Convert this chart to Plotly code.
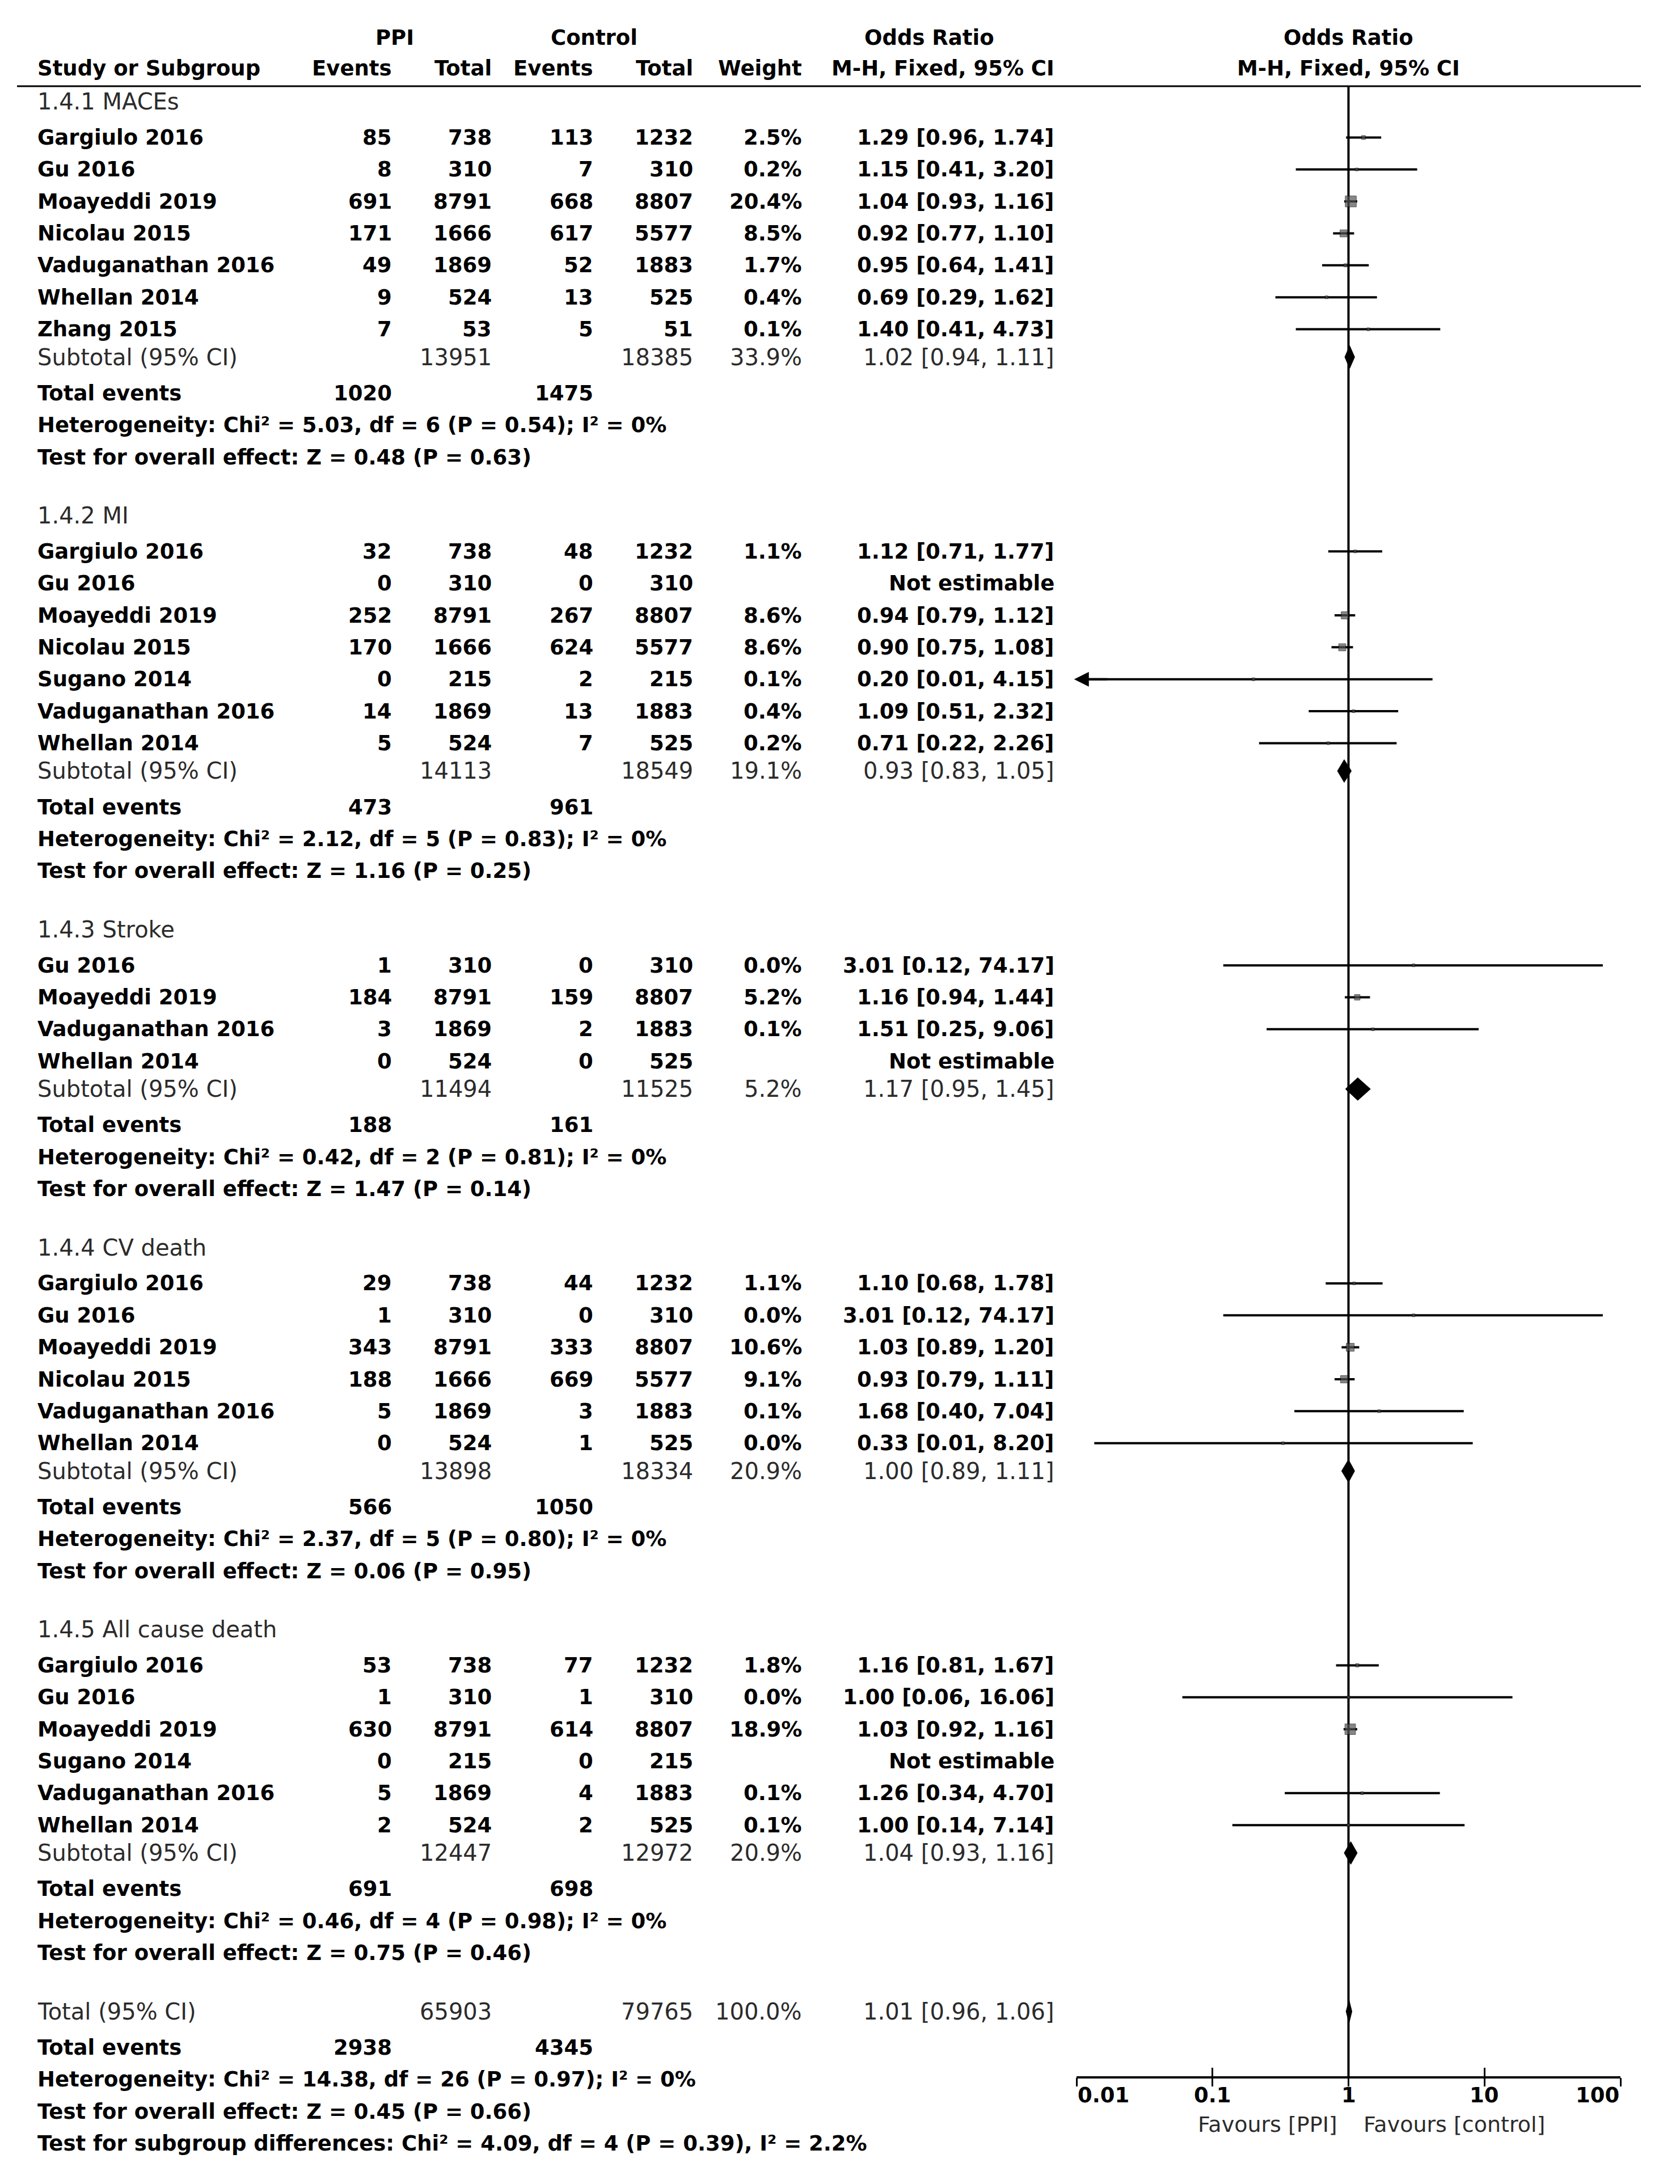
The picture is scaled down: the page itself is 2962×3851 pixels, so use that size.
import math
import plotly.graph_objects as go

W, H = 2962, 3851

# ---------------- data ----------------
section_titles = ["1.4.1 MACEs", "1.4.2 MI", "1.4.3 Stroke", "1.4.4 CV death", "1.4.5 All cause death"]

study_section = [0] * 7 + [1] * 7 + [2] * 4 + [3] * 6 + [4] * 6
study_names = [
    "Gargiulo 2016", "Gu 2016", "Moayeddi 2019", "Nicolau 2015", "Vaduganathan 2016", "Whellan 2014", "Zhang 2015",
    "Gargiulo 2016", "Gu 2016", "Moayeddi 2019", "Nicolau 2015", "Sugano 2014", "Vaduganathan 2016", "Whellan 2014",
    "Gu 2016", "Moayeddi 2019", "Vaduganathan 2016", "Whellan 2014",
    "Gargiulo 2016", "Gu 2016", "Moayeddi 2019", "Nicolau 2015", "Vaduganathan 2016", "Whellan 2014",
    "Gargiulo 2016", "Gu 2016", "Moayeddi 2019", "Sugano 2014", "Vaduganathan 2016", "Whellan 2014",
]
ppi_events = [85, 8, 691, 171, 49, 9, 7,
              32, 0, 252, 170, 0, 14, 5,
              1, 184, 3, 0,
              29, 1, 343, 188, 5, 0,
              53, 1, 630, 0, 5, 2]
ppi_total = [738, 310, 8791, 1666, 1869, 524, 53,
             738, 310, 8791, 1666, 215, 1869, 524,
             310, 8791, 1869, 524,
             738, 310, 8791, 1666, 1869, 524,
             738, 310, 8791, 215, 1869, 524]
ctl_events = [113, 7, 668, 617, 52, 13, 5,
              48, 0, 267, 624, 2, 13, 7,
              0, 159, 2, 0,
              44, 0, 333, 669, 3, 1,
              77, 1, 614, 0, 4, 2]
ctl_total = [1232, 310, 8807, 5577, 1883, 525, 51,
             1232, 310, 8807, 5577, 215, 1883, 525,
             310, 8807, 1883, 525,
             1232, 310, 8807, 5577, 1883, 525,
             1232, 310, 8807, 215, 1883, 525]
weight_pct = [2.5, 0.2, 20.4, 8.5, 1.7, 0.4, 0.1,
              1.1, None, 8.6, 8.6, 0.1, 0.4, 0.2,
              0.0, 5.2, 0.1, None,
              1.1, 0.0, 10.6, 9.1, 0.1, 0.0,
              1.8, 0.0, 18.9, None, 0.1, 0.1]
odds_ratio = [1.29, 1.15, 1.04, 0.92, 0.95, 0.69, 1.40,
              1.12, None, 0.94, 0.90, 0.20, 1.09, 0.71,
              3.01, 1.16, 1.51, None,
              1.10, 3.01, 1.03, 0.93, 1.68, 0.33,
              1.16, 1.00, 1.03, None, 1.26, 1.00]
ci_lower = [0.96, 0.41, 0.93, 0.77, 0.64, 0.29, 0.41,
            0.71, None, 0.79, 0.75, 0.0096, 0.51, 0.22,
            0.12, 0.94, 0.25, None,
            0.68, 0.12, 0.89, 0.79, 0.40, 0.0135,
            0.81, 0.06, 0.92, None, 0.34, 0.14]
ci_upper = [1.74, 3.20, 1.16, 1.10, 1.41, 1.62, 4.73,
            1.77, None, 1.12, 1.08, 4.15, 2.32, 2.26,
            74.17, 1.44, 9.06, None,
            1.78, 74.17, 1.20, 1.11, 7.04, 8.20,
            1.67, 16.06, 1.16, None, 4.70, 7.14]

sub_ppi_total = [13951, 14113, 11494, 13898, 12447]
sub_ctl_total = [18385, 18549, 11525, 18334, 12972]
sub_weight = [33.9, 19.1, 5.2, 20.9, 20.9]
sub_or = [1.02, 0.93, 1.17, 1.00, 1.04]
sub_lo = [0.94, 0.83, 0.95, 0.89, 0.93]
sub_hi = [1.11, 1.05, 1.45, 1.11, 1.16]
sub_ppi_events = [1020, 473, 188, 566, 691]
sub_ctl_events = [1475, 961, 161, 1050, 698]
het_chi2 = [5.03, 2.12, 0.42, 2.37, 0.46]
het_df = [6, 5, 2, 5, 4]
het_p = [0.54, 0.83, 0.81, 0.80, 0.98]
het_i2 = [0, 0, 0, 0, 0]
z_value = [0.48, 1.16, 1.47, 0.06, 0.75]
z_p = [0.63, 0.25, 0.14, 0.95, 0.46]

overall_ppi_total = 65903
overall_ctl_total = 79765
overall_weight = 100.0
overall_or = 1.01
overall_lo = 0.96
overall_hi = 1.06
overall_ppi_events = 2938
overall_ctl_events = 4345
overall_chi2 = 14.38
overall_df = 26
overall_p = 0.97
overall_i2 = 0
overall_z = 0.45
overall_zp = 0.66
subgroup_chi2 = 4.09
subgroup_df = 4
subgroup_p = 0.39
subgroup_i2 = 2.2

tick_vals = [0.01, 0.1, 1, 10, 100]
tick_text = ["0.01", "0.1", "1", "10", "100"]
favours_left = "Favours [PPI]"
favours_right = "Favours [control]"

# ---------------- layout constants (pixels) ----------------
FONT = "DejaVu Sans, Verdana, sans-serif"
FS_BOLD = 37
FS_REG = 40
BOLD_COLOR = "#000000"
REG_COLOR = "#2b2b2b"
X_NAME = 64
X_PPI_EV = 693
X_PPI_TOT = 869
X_CTL_EV = 1048
X_CTL_TOT = 1224
X_WEIGHT = 1416
X_OR = 1861
X_PPI_HEAD = 696
X_CTL_HEAD = 1047
X_OR_HEAD = 1638
PLOT_X0, PLOT_X1 = 1898, 2857
RULE_X0, RULE_X1 = 30, 2893
Y_HEAD1, Y_HEAD2, Y_RULE = 66, 120, 152
AXIS_Y = 3663
U = 56.36
Y_START = 179.3
DIAMOND_H = 40
CI_W = 4

ann = []


def txt(x_px, y, s, anchor="left", bold=False):
    ann.append(dict(
        x=x_px / W, xref="paper", y=y, yref="y",
        text=f"<b>{s}</b>" if bold else s,
        showarrow=False, xanchor=anchor, yanchor="middle",
        font=dict(family=FONT, size=FS_BOLD if bold else FS_REG,
                  color=BOLD_COLOR if bold else REG_COLOR),
    ))


def fmt_ci(o, lo, hi):
    return f"{o:.2f} [{lo:.2f}, {hi:.2f}]"


# header
txt(X_PPI_HEAD, Y_HEAD1, "PPI", "center", True)
txt(X_CTL_HEAD, Y_HEAD1, "Control", "center", True)
txt(X_OR_HEAD, Y_HEAD1, "Odds Ratio", "center", True)
txt(X_NAME, Y_HEAD2, "Study or Subgroup", "left", True)
txt(X_PPI_EV, Y_HEAD2, "Events", "right", True)
txt(X_PPI_TOT, Y_HEAD2, "Total", "right", True)
txt(X_CTL_EV, Y_HEAD2, "Events", "right", True)
txt(X_CTL_TOT, Y_HEAD2, "Total", "right", True)
txt(X_WEIGHT, Y_HEAD2, "Weight", "right", True)
txt(X_OR, Y_HEAD2, "M-H, Fixed, 95% CI", "right", True)
for yy, s in ((Y_HEAD1, "Odds Ratio"), (Y_HEAD2, "M-H, Fixed, 95% CI")):
    ann.append(dict(x=0, xref="x", y=yy, yref="y", text=f"<b>{s}</b>", showarrow=False,
                    xanchor="center", yanchor="middle",
                    font=dict(family=FONT, size=FS_BOLD, color=BOLD_COLOR)))

ci_x, ci_y = [], []
sq_x, sq_y, sq_s = [], [], []
diamonds = []
arrows = []

y = Y_START
for s, title in enumerate(section_titles):
    if s > 0:
        y += 1.83 * U
    txt(X_NAME, y, title)
    idx = [i for i, sec in enumerate(study_section) if sec == s]
    for k, i in enumerate(idx):
        y += (1.12 if k == 0 else 1.0) * U
        txt(X_NAME, y, study_names[i], "left", True)
        txt(X_PPI_EV, y, str(ppi_events[i]), "right", True)
        txt(X_PPI_TOT, y, str(ppi_total[i]), "right", True)
        txt(X_CTL_EV, y, str(ctl_events[i]), "right", True)
        txt(X_CTL_TOT, y, str(ctl_total[i]), "right", True)
        if odds_ratio[i] is None:
            txt(X_OR, y, "Not estimable", "right", True)
            continue
        txt(X_WEIGHT, y, f"{weight_pct[i]:.1f}%", "right", True)
        txt(X_OR, y, fmt_ci(odds_ratio[i], ci_lower[i], ci_upper[i]), "right", True)
        ci_x += [ci_lower[i], ci_upper[i], None]
        ci_y += [y, y, None]
        sq_x.append(odds_ratio[i])
        sq_y.append(y)
        sq_s.append(max(5.0, 4.3 * math.sqrt(weight_pct[i])))
        if ci_lower[i] < tick_vals[0]:
            arrows.append((ci_lower[i], y))
    y += 0.87 * U
    txt(X_NAME, y, "Subtotal (95% CI)")
    txt(X_PPI_TOT, y, str(sub_ppi_total[s]), "right")
    txt(X_CTL_TOT, y, str(sub_ctl_total[s]), "right")
    txt(X_WEIGHT, y, f"{sub_weight[s]:.1f}%", "right")
    txt(X_OR, y, fmt_ci(sub_or[s], sub_lo[s], sub_hi[s]), "right")
    diamonds.append((sub_lo[s], sub_or[s], sub_hi[s], y))
    y += 1.13 * U
    txt(X_NAME, y, "Total events", "left", True)
    txt(X_PPI_EV, y, str(sub_ppi_events[s]), "right", True)
    txt(X_CTL_EV, y, str(sub_ctl_events[s]), "right", True)
    y += U
    txt(X_NAME, y, f"Heterogeneity: Chi² = {het_chi2[s]:.2f}, df = {het_df[s]} (P = {het_p[s]:.2f}); I² = {het_i2[s]:g}%", "left", True)
    y += U
    txt(X_NAME, y, f"Test for overall effect: Z = {z_value[s]:.2f} (P = {z_p[s]:.2f})", "left", True)

y += 1.83 * U
txt(X_NAME, y, "Total (95% CI)")
txt(X_PPI_TOT, y, str(overall_ppi_total), "right")
txt(X_CTL_TOT, y, str(overall_ctl_total), "right")
txt(X_WEIGHT, y, f"{overall_weight:.1f}%", "right")
txt(X_OR, y, fmt_ci(overall_or, overall_lo, overall_hi), "right")
diamonds.append((overall_lo, overall_or, overall_hi, y))
y += 1.13 * U
txt(X_NAME, y, "Total events", "left", True)
txt(X_PPI_EV, y, str(overall_ppi_events), "right", True)
txt(X_CTL_EV, y, str(overall_ctl_events), "right", True)
y += U
txt(X_NAME, y, f"Heterogeneity: Chi² = {overall_chi2:.2f}, df = {overall_df} (P = {overall_p:.2f}); I² = {overall_i2:g}%", "left", True)
y += U
txt(X_NAME, y, f"Test for overall effect: Z = {overall_z:.2f} (P = {overall_zp:.2f})", "left", True)
y += U
txt(X_NAME, y, f"Test for subgroup differences: Chi² = {subgroup_chi2:.2f}, df = {subgroup_df} (P = {subgroup_p:.2f}), I² = {subgroup_i2:g}%", "left", True)

# ---------------- traces ----------------
fig = go.Figure()
# vertical line of no effect
fig.add_trace(go.Scatter(x=[1, 1], y=[Y_RULE, AXIS_Y], mode="lines",
                         line=dict(color="black", width=4), hoverinfo="skip"))
# confidence intervals
fig.add_trace(go.Scatter(x=ci_x, y=ci_y, mode="lines",
                         line=dict(color="black", width=CI_W), hoverinfo="skip"))
# study squares
fig.add_trace(go.Scatter(x=sq_x, y=sq_y, mode="markers",
                         marker=dict(symbol="square", size=sq_s, color="#555555",
                                     line=dict(color="#111111", width=1)),
                         hoverinfo="skip"))
# diamonds
for lo, o, hi, yy in diamonds:
    fig.add_trace(go.Scatter(x=[lo, o, hi, o, lo], y=[yy, yy - DIAMOND_H / 2, yy, yy + DIAMOND_H / 2, yy],
                             mode="lines", fill="toself", fillcolor="black",
                             line=dict(color="black", width=1), hoverinfo="skip"))
# helper trace for second (tick) axis
fig.add_trace(go.Scatter(x=[1], y=[AXIS_Y], xaxis="x2", yaxis="y", mode="markers",
                         marker=dict(opacity=0), hoverinfo="skip"))

# arrows for intervals beyond the axis
for lo, yy in arrows:
    ann.append(dict(x=math.log10(lo), y=yy, xref="x", yref="y",
                    ax=math.log10(lo) + 0.25, ay=yy, axref="x", ayref="y",
                    text="", showarrow=True, arrowhead=2, arrowsize=1.3, arrowwidth=4,
                    arrowcolor="black", standoff=0))

# tick labels
for k, (v, t) in enumerate(zip(tick_vals, tick_text)):
    anchor = "left" if k == 0 else ("right" if k == len(tick_vals) - 1 else "center")
    ann.append(dict(x=math.log10(v), xref="x", y=AXIS_Y + 31, yref="y", text=f"<b>{t}</b>",
                    showarrow=False, xanchor=anchor, yanchor="middle",
                    font=dict(family=FONT, size=FS_BOLD, color=BOLD_COLOR)))
ann.append(dict(x=0, xref="x", y=AXIS_Y + 83, yref="y", text=favours_left, showarrow=False,
                xanchor="right", yanchor="middle", xshift=-18,
                font=dict(family=FONT, size=38, color=REG_COLOR)))
ann.append(dict(x=0, xref="x", y=AXIS_Y + 83, yref="y", text=favours_right, showarrow=False,
                xanchor="left", yanchor="middle", xshift=24,
                font=dict(family=FONT, size=38, color=REG_COLOR)))

axis_pos = (H - AXIS_Y) / H
xdom = [PLOT_X0 / W, PLOT_X1 / W]
common = dict(type="log", range=[-2, 2], domain=xdom, anchor="free", position=axis_pos,
              tickvals=tick_vals, showticklabels=False, showgrid=False, zeroline=False,
              ticklen=15, tickwidth=3, tickcolor="black", fixedrange=True)

fig.update_layout(
    width=W, height=H,
    margin=dict(l=0, r=0, t=0, b=0),
    paper_bgcolor="white", plot_bgcolor="rgba(0,0,0,0)",
    showlegend=False,
    xaxis=dict(**common, ticks="inside", showline=True, linecolor="black", linewidth=4),
    xaxis2=dict(**common, ticks="outside", showline=False, overlaying="x"),
    yaxis=dict(range=[H, 0], domain=[0, 1], visible=False, fixedrange=True),
    annotations=ann,
    shapes=[dict(type="line", xref="paper", yref="y", x0=RULE_X0 / W, x1=RULE_X1 / W,
                 y0=Y_RULE, y1=Y_RULE, line=dict(color="black", width=3))],
)

fig.write_html("out.html",
               config={"displayModeBar": False, "staticPlot": True},
               post_script="document.body.style.margin='0px';document.body.style.padding='0px';")
